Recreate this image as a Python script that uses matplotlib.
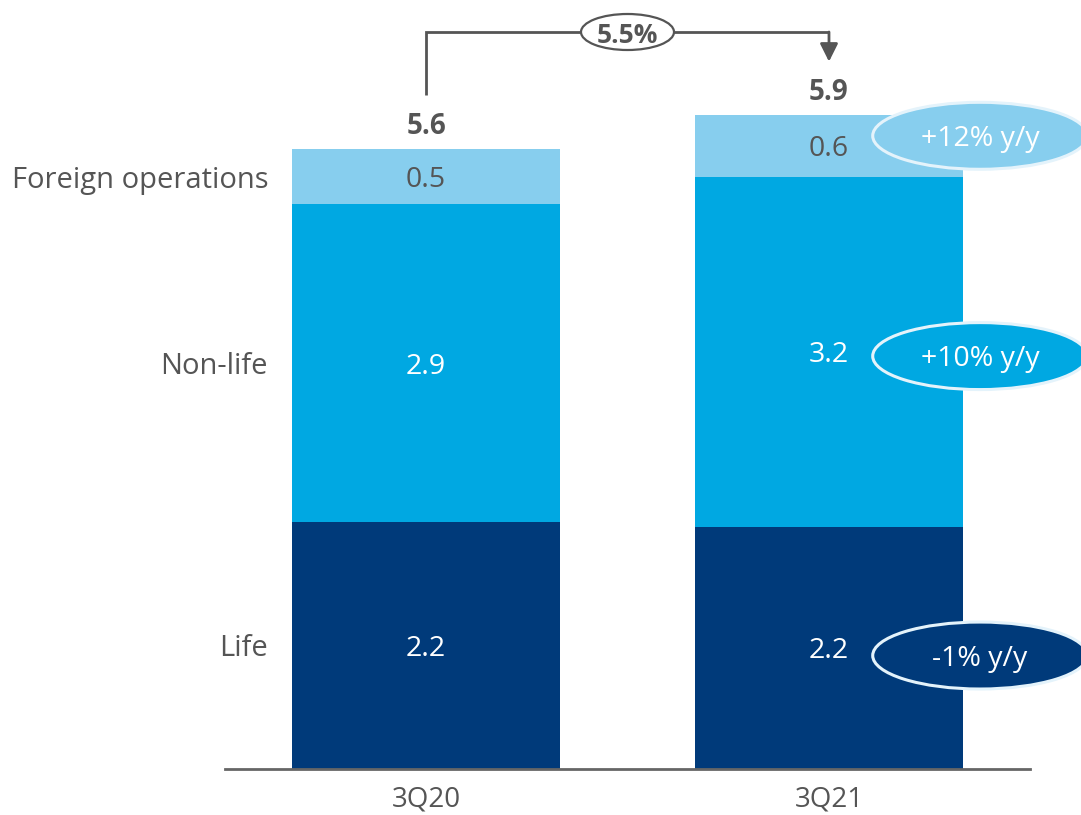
import matplotlib
matplotlib.use("Agg")
import matplotlib.pyplot as plt
from matplotlib.patches import Ellipse, FancyArrowPatch

plt.rcParams['font.family'] = ['Open Sans', 'DejaVu Sans']

# Data (EUR bn); labels are the values rounded to one decimal
periods = ["3Q20", "3Q21"]
segments = ["Life", "Non-life", "Foreign operations"]
life = [2.23, 2.19]
non_life = [2.87, 3.16]
foreign = [0.50, 0.56]
totals = [5.6, 5.9]
growth_total = "5.5%"
growth_segments = ["-1% y/y", "+10% y/y", "+12% y/y"]

colors = ["#003A7A", "#00A8E2", "#87CEEE"]
label_colors = ["white", "white", "#555555"]
grey = "#555555"

W, H = 1081, 815
fig = plt.figure(figsize=(W / 100, H / 100), dpi=100)
ax = fig.add_axes([225 / W, (H - 769) / H, 805 / W, 769 / H])
ax.set_xlim(-0.4988, 1.4988)
ax.set_ylim(0, 769 / 110.7)

# small downward nudge so the glyphs sit optically centred
dy = -0.03

x = list(range(len(periods)))
bar_w = 0.665
stack = [life, non_life, foreign]
bottoms = [0.0] * len(periods)
centers = []
for seg_vals, col, lcol in zip(stack, colors, label_colors):
    ax.bar(x, seg_vals, width=bar_w, bottom=bottoms, color=col, linewidth=0, zorder=2)
    seg_centers = []
    for i, v in enumerate(seg_vals):
        cy = bottoms[i] + v / 2
        seg_centers.append(cy)
        ax.text(x[i], cy + dy, f"{v:.1f}", ha="center", va="center", color=lcol,
                fontsize=20.5, zorder=4)
    centers.append(seg_centers)
    bottoms = [b + v for b, v in zip(bottoms, seg_vals)]

# Totals above the bars
for i, t in enumerate(totals):
    ax.text(x[i], bottoms[i] + 0.2, f"{t:.1f}", ha="center", va="center", color=grey,
            fontsize=20, fontweight="bold")

# Segment names on the left
for name, cy in zip(segments, [c[0] for c in centers]):
    ax.text(-0.392, cy + dy, name, ha="right", va="center", color=grey, fontsize=21)

# Growth ellipses on the right of the latest bar
offsets = [-0.07, -0.04, 0.09]
for (lbl, col, seg_c, off) in zip(growth_segments, colors, centers, offsets):
    cx = x[1] + 0.375
    cy = seg_c[1] + off
    e = Ellipse((cx, cy), 0.533, 0.605, facecolor=col, edgecolor="#E4F3FB",
                linewidth=2.2, zorder=5, clip_on=False)
    ax.add_patch(e)
    ax.text(cx, cy + dy, lbl, ha="center", va="center", color="white",
            fontsize=20.5, zorder=6, clip_on=False)

# Bracket showing total growth
y_top = (769 - 32) / 110.7
ax.plot([x[0], x[0], x[1]], [bottoms[0] + 0.49, y_top, y_top], color=grey, lw=2,
        solid_capstyle="butt", solid_joinstyle="miter", zorder=3, clip_on=False)
arr = FancyArrowPatch((x[1], y_top), (x[1], bottoms[1] + 0.48),
                      arrowstyle="-|>,head_length=10.8,head_width=5.4", mutation_scale=1,
                      color=grey, lw=2, shrinkA=0, shrinkB=0, zorder=3, clip_on=False)
ax.add_patch(arr)
ex = (x[0] + x[1]) / 2
ax.add_patch(Ellipse((ex, y_top), 93 / 403, 36 / 110.7, facecolor="white",
                     edgecolor=grey, lw=1.6, zorder=4, clip_on=False))
ax.text(ex, y_top + dy, growth_total, ha="center", va="center", color=grey,
        fontsize=19, fontweight="bold", zorder=5)

# Axis styling
for s in ["top", "right", "left"]:
    ax.spines[s].set_visible(False)
ax.spines["bottom"].set_color("#666666")
ax.spines["bottom"].set_linewidth(2)
ax.set_yticks([])
ax.set_xticks(x)
ax.set_xticklabels(periods, fontsize=20, color=grey)
ax.tick_params(axis="x", length=0, pad=12)

fig.savefig("out.png", dpi=100)
